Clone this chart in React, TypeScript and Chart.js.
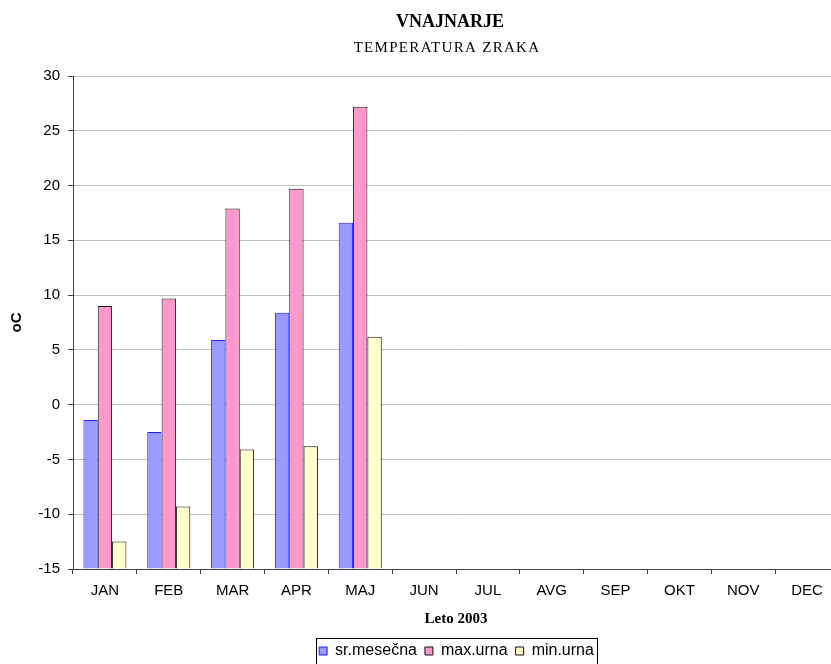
import React, { useEffect, useRef } from 'react';
import { Chart, registerables } from 'chart.js';

Chart.register(...registerables);

const categories = ['JAN', 'FEB', 'MAR', 'APR', 'MAJ', 'JUN', 'JUL', 'AVG', 'SEP', 'OKT', 'NOV', 'DEC'];
const srMesecna = [-1.4, -2.5, 5.9, 8.4, 16.6, null, null, null, null, null, null, null];
const maxUrna = [9.0, 9.7, 17.9, 19.7, 27.2, null, null, null, null, null, null, null];
const minUrna = [-12.5, -9.3, -4.1, -3.8, 6.2, null, null, null, null, null, null, null];
const seriesNames = ['sr.mesečna', 'max.urna', 'min.urna'];
const yMin = -15;
const yMax = 30;
const yStep = 5;
const titleText = 'VNAJNARJE';
const subtitleText = 'TEMPERATURA ZRAKA';
const xTitle = 'Leto 2003';
const yTitle = 'oC';

const SANS = '"Liberation Sans", Arial, sans-serif';
const SERIF = '"Liberation Serif", "Times New Roman", serif';

const CANVAS_W = 860;
const CANVAS_H = 664;

const legendShift = {
  id: 'legendShift',
  afterLayout(chart: any) {
    const l = chart.legend;
    if (l) {
      l.left += 37;
      l.right += 37;
      l.top += 5;
      l.bottom += 5;
    }
  },
};

const decorations = {
  id: 'decorations',
  afterDraw(chart: any) {
    const ctx = chart.ctx as CanvasRenderingContext2D;
    ctx.save();
    ctx.fillStyle = '#000';
    ctx.textBaseline = 'alphabetic';
    // main title
    ctx.font = 'bold 18px ' + SERIF;
    const w1 = ctx.measureText(titleText).width;
    ctx.fillText(titleText, 450 - w1 / 2, 27);
    // subtitle with letter spacing
    ctx.font = '15px ' + SERIF;
    (ctx as any).letterSpacing = '1.3px';
    const w2 = ctx.measureText(subtitleText).width;
    ctx.fillText(subtitleText, 447 - w2 / 2, 52);
    (ctx as any).letterSpacing = '0px';
    // legend frame
    const l = chart.legend;
    if (l && l.legendHitBoxes && l.legendHitBoxes.length) {
      let minL = Infinity;
      let maxR = -Infinity;
      for (const h of l.legendHitBoxes) {
        minL = Math.min(minL, h.left);
        maxR = Math.max(maxR, h.left + h.width);
      }
      ctx.strokeStyle = '#000';
      ctx.lineWidth = 1;
      ctx.strokeRect(Math.round(minL - 3) + 0.5, Math.round(l.top + 3) + 0.5, Math.round(maxR - minL + 6), 40);
    }
    ctx.restore();
  },
};

export default function App() {
  const ref = useRef<HTMLCanvasElement | null>(null);

  useEffect(() => {
    if (!ref.current) return;
    const chart = new Chart(ref.current, {
      type: 'bar',
      data: {
        labels: categories,
        datasets: [
          {
            label: seriesNames[0],
            data: srMesecna,
            backgroundColor: '#9999ff',
            borderColor: '#2222ff',
            borderWidth: 1,
            base: yMin,
          } as any,
          {
            label: seriesNames[1],
            data: maxUrna,
            backgroundColor: '#ff99cc',
            borderColor: '#111111',
            borderWidth: 1,
            base: yMin,
          } as any,
          {
            label: seriesNames[2],
            data: minUrna,
            backgroundColor: '#ffffcc',
            borderColor: '#111111',
            borderWidth: 1,
            base: yMin,
          } as any,
        ],
      },
      options: {
        responsive: false,
        animation: false,
        maintainAspectRatio: false,
        layout: { padding: { top: 76, left: 0, right: CANVAS_W - 839, bottom: 0 } },
        datasets: {
          bar: { categoryPercentage: 0.674, barPercentage: 1.0 },
        },
        plugins: {
          title: { display: false },
          tooltip: { enabled: false },
          legend: {
            display: true,
            position: 'bottom',
            labels: {
              boxWidth: 8,
              boxHeight: 8,
              padding: 8,
              color: '#000',
              font: { family: SANS, size: 16 },
            },
          },
        },
        scales: {
          x: {
            type: 'category',
            offset: true,
            afterFit(scale: any) {
              scale.height = 61;
            },
            grid: {
              display: true,
              drawOnChartArea: false,
              drawTicks: true,
              tickLength: 5,
              tickColor: '#404040',
              offset: true,
            },
            border: { display: true, color: '#404040', width: 1 },
            ticks: {
              color: '#000',
              font: { family: SANS, size: 15 },
              padding: 8,
              autoSkip: false,
              maxRotation: 0,
              minRotation: 0,
            },
            title: {
              display: true,
              text: xTitle,
              color: '#000',
              font: { family: SERIF, size: 15, weight: 'bold' },
              padding: { top: 0, bottom: 2 },
            },
          },
          y: {
            type: 'linear',
            min: yMin,
            max: yMax,
            afterFit(scale: any) {
              scale.width = 73;
            },
            grid: {
              color: '#c0c0c0',
              lineWidth: 1,
              drawTicks: true,
              tickLength: 5,
              tickColor: '#404040',
            },
            border: { display: true, color: '#404040', width: 1 },
            ticks: {
              stepSize: yStep,
              color: '#000',
              font: { family: SANS, size: 15 },
              padding: 8,
            },
            title: {
              display: true,
              text: yTitle,
              color: '#000',
              font: { family: SANS, size: 15, weight: 'bold' },
              padding: { top: 8, bottom: 0 },
            },
          },
        },
      } as any,
      plugins: [legendShift, decorations],
    });
    return () => chart.destroy();
  }, []);

  return (
    <div
      style={{
        position: 'fixed',
        left: 0,
        top: 0,
        width: 831,
        height: 664,
        overflow: 'hidden',
        background: '#fff',
      }}
    >
      <canvas ref={ref} width={CANVAS_W} height={CANVAS_H} style={{ width: CANVAS_W, height: CANVAS_H, display: 'block' }} />
    </div>
  );
}
